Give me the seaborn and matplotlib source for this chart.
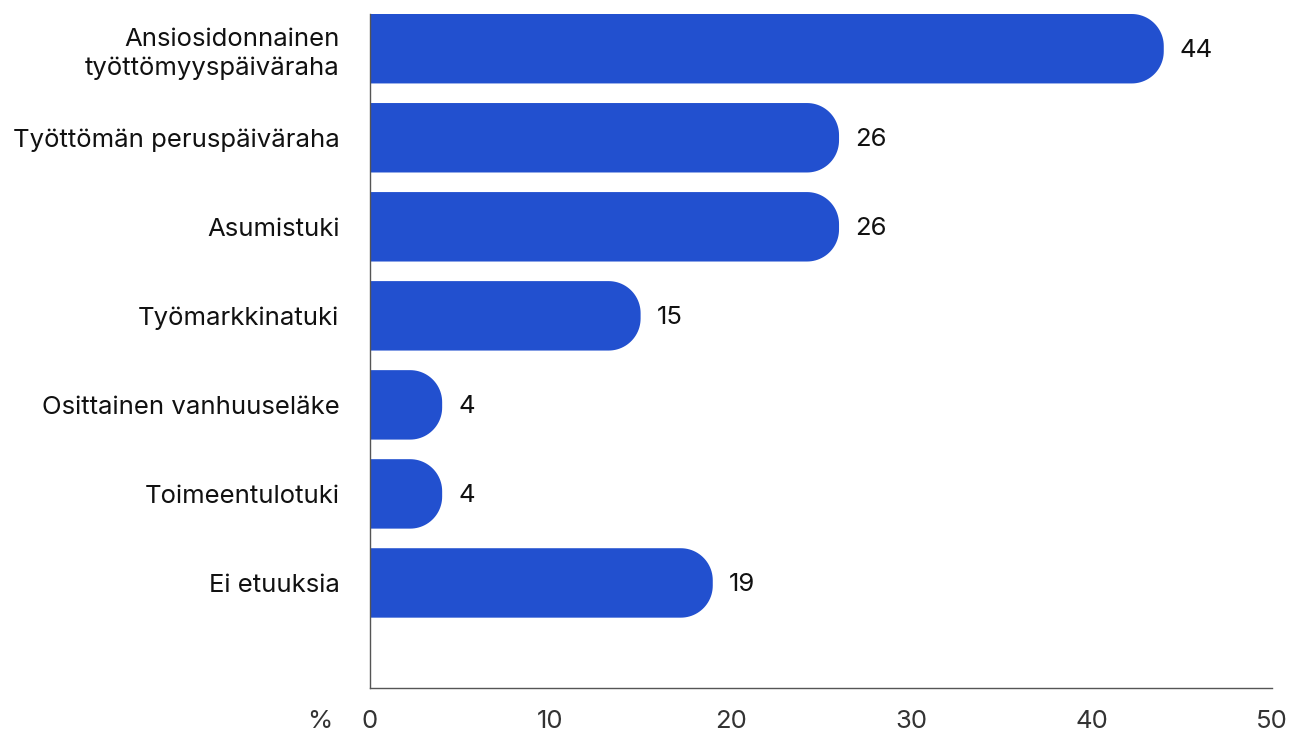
import matplotlib
matplotlib.use("Agg")
import matplotlib.pyplot as plt
from matplotlib.patches import Polygon
import seaborn as sns
import pandas as pd
import numpy as np

categories = [
    "Ansiosidonnainen\ntyöttömyyspäiväraha",
    "Työttömän peruspäiväraha",
    "Asumistuki",
    "Työmarkkinatuki",
    "Osittainen vanhuuseläke",
    "Toimeentulotuki",
    "Ei etuuksia",
]
values = [44, 26, 26, 15, 4, 4, 19]
x_ticks = [0, 10, 20, 30, 40, 50]

BAR_COLOR = "#2250CF"
TEXT_COLOR = "#111111"
TICK_TEXT = "#333333"
AXIS_COLOR = "#555555"
FONT = ["Inter", "DejaVu Sans"]
FS = 18.5

sns.set_theme(style="white")
plt.rcParams["font.family"] = FONT

W, H = 1306, 733
fig = plt.figure(figsize=(W / 100, H / 100), dpi=100)
ax_left, ax_right, ax_top, ax_bottom = 370, 1272, 14, 688
ax = fig.add_axes([ax_left / W, 1 - ax_bottom / H,
                   (ax_right - ax_left) / W, (ax_bottom - ax_top) / H])

df = pd.DataFrame({"etuus": categories, "osuus": values})
bar_h = 0.78
sns.barplot(data=df, x="osuus", y="etuus", orient="h", color=BAR_COLOR,
            width=bar_h, saturation=1, ax=ax)

y_bottom = 6 + 1.18
ax.set_xlim(0, 50)
ax.set_ylim(y_bottom, -bar_h / 2)

# pixel scale of each axis, used to keep the rounded ends circular
x_px = (ax_right - ax_left) / 50.0
y_px = (ax_bottom - ax_top) / (y_bottom + bar_h / 2)
radius_px = 32
rx = radius_px / x_px
ry = radius_px / y_px


def right_rounded_bar(x0, y0, w, h):
    """Outline of a bar whose right end has rounded corners."""
    t = np.linspace(0, np.pi / 2, 24)
    xe = x0 + w
    # y axis is inverted: y0 is the top edge on screen
    top = [(xe - rx + rx * np.sin(a), y0 + ry - ry * np.cos(a)) for a in t]
    bot = [(xe - rx + rx * np.cos(a), y0 + h - ry + ry * np.sin(a)) for a in t]
    return [(x0, y0)] + top + bot + [(x0, y0 + h)]


# replace plain rectangles with bars rounded on the right end only
for patch in list(ax.patches):
    x0, y0 = patch.get_x(), patch.get_y()
    w, h = patch.get_width(), patch.get_height()
    patch.remove()
    ax.add_patch(Polygon(right_rounded_bar(x0, y0, w, h), closed=True,
                         facecolor=BAR_COLOR, edgecolor="none", zorder=2))
    ax.text(x0 + w + 16 / x_px, y0 + h / 2 + 2 / y_px, f"{int(round(w))}",
            ha="left", va="center", fontsize=FS, color=TEXT_COLOR,
            family=FONT)

ax.set_xlabel("")
ax.set_ylabel("")
ax.set_xticks(x_ticks)
ax.set_xticklabels([str(t) for t in x_ticks])
ax.tick_params(axis="x", direction="in", length=12, width=1,
               color=AXIS_COLOR, pad=16, labelsize=FS, labelcolor=TICK_TEXT)
ax.tick_params(axis="y", length=0, pad=22, labelsize=FS,
               labelcolor=TEXT_COLOR)
for lab in ax.get_yticklabels():
    lab.set_multialignment("right")
    lab.set_linespacing(1.3)

for side in ["top", "right"]:
    ax.spines[side].set_visible(False)
for side in ["left", "bottom"]:
    ax.spines[side].set_color(AXIS_COLOR)
    ax.spines[side].set_linewidth(1)

fig.text(320 / W, 1 - 721 / H, "%", ha="center", va="center",
         fontsize=FS, color=TICK_TEXT, family=FONT)

fig.savefig("out.png", dpi=100, facecolor="white")
